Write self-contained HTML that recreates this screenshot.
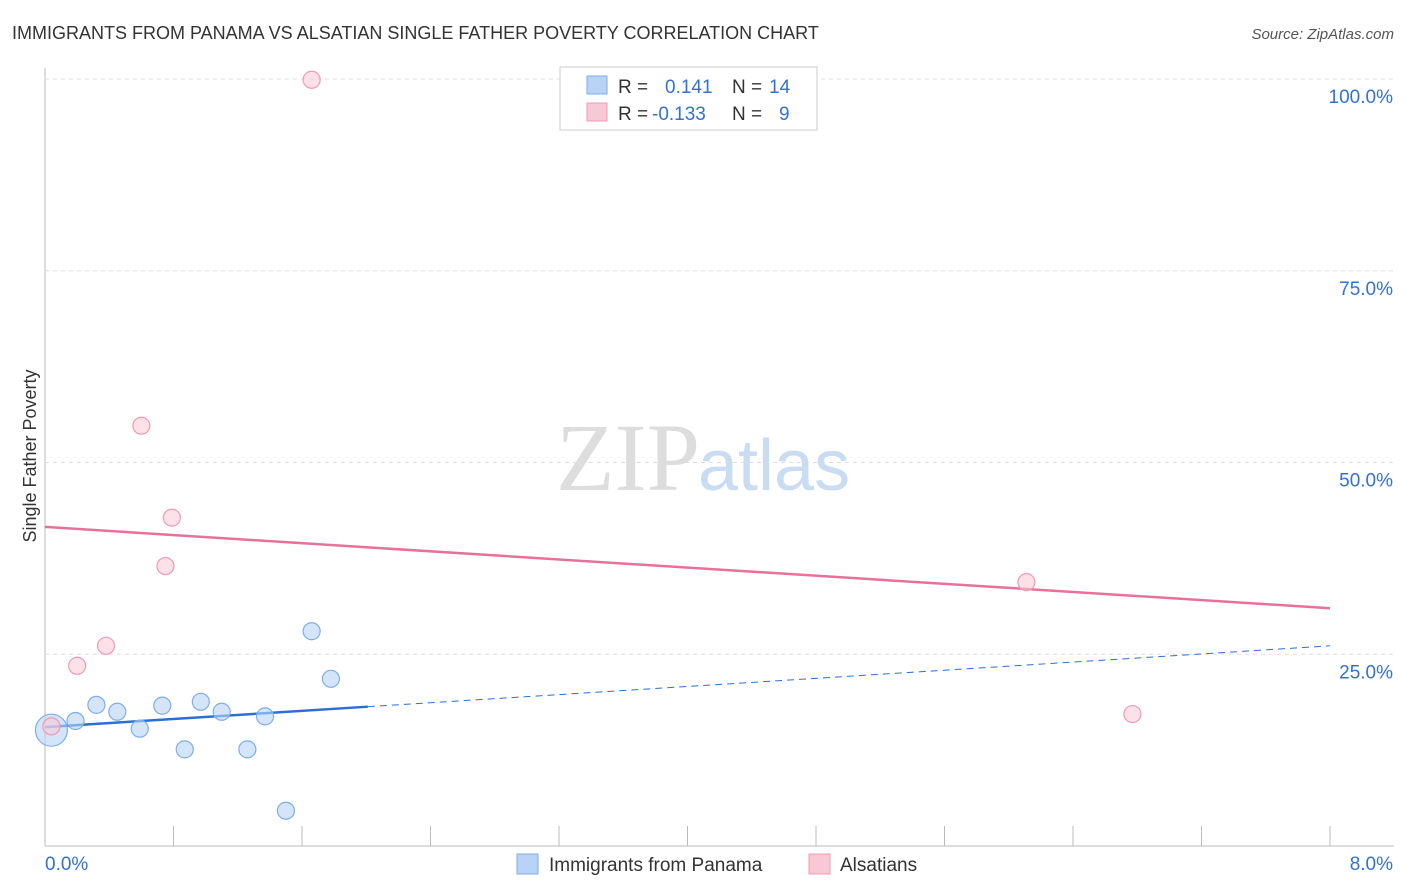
<!DOCTYPE html>
<html><head><meta charset="utf-8">
<style>
body{margin:0;background:#fff;font-family:"Liberation Sans",sans-serif;}
svg{display:block}
</style></head>
<body>
<svg id="chart" width="1406" height="892">
<text x="12" y="39" font-size="18" fill="#333">IMMIGRANTS FROM PANAMA VS ALSATIAN SINGLE FATHER POVERTY CORRELATION CHART</text>
<text x="1394" y="39" font-size="15" fill="#555" font-style="italic" text-anchor="end">Source: ZipAtlas.com</text>
<text x="36" y="456" font-size="18" fill="#333" transform="rotate(-90 36 456)" text-anchor="middle">Single Father Poverty</text>
<g id="grid"></g>
<text x="700" y="490" font-size="96" fill="#ddd" text-anchor="end" font-family="Liberation Serif,serif">ZIP</text>
<text x="698" y="490" font-size="72" fill="#c9dcf2">atlas</text>
<g id="trends"></g>
<g id="points"></g>
<g>
<rect x="560" y="67" width="257" height="63" fill="#fff" stroke="#ccc"/>
<rect x="587" y="76" width="20" height="18" fill="#b8d3f5" stroke="#7eaee8"/>
<rect x="587" y="103" width="20" height="18" fill="#f9c8d6" stroke="#f09ab3"/>
<text font-size="19" fill="#333"><tspan x="618" y="93">R = </tspan><tspan x="665" fill="#3571d0">0.141</tspan><tspan x="732">N = </tspan><tspan x="769" fill="#3571d0">14</tspan></text>
<text font-size="19" fill="#333"><tspan x="618" y="120">R = </tspan><tspan x="652" fill="#3571d0">-0.133</tspan><tspan x="732">N = </tspan><tspan x="779" fill="#3571d0">9</tspan></text>
</g>
<g>
<rect x="517" y="854" width="21" height="20" fill="#b8d3f5" stroke="#7eaee8"/>
<text x="549" y="871" font-size="19" fill="#333">Immigrants from Panama</text>
<rect x="809" y="854" width="21" height="20" fill="#f9c8d6" stroke="#f09ab3"/>
<text x="840" y="871" font-size="19" fill="#333">Alsatians</text>
</g>
</svg>
<script>
const xTicks=[0,0.8,1.6,2.4,3.2,4,4.8,5.6,6.4,7.2,8];
const yTicks=[25,50,75,100];
const yTickLabels=["25.0%","50.0%","75.0%","100.0%"];
const panamaX=[0.04,0.19,0.32,0.45,0.59,0.73,0.87,0.97,1.10,1.26,1.37,1.50,1.66,1.78];
const panamaY=[15.1,16.3,18.4,17.5,15.3,18.3,12.6,18.8,17.5,12.6,16.9,4.6,28.0,21.8];
const alsX=[0.04,0.2,0.38,0.6,0.79,0.75,1.66,6.11,6.77];
const alsY=[15.6,23.5,26.1,54.8,42.8,36.5,99.9,34.4,17.2];
const panamaTrend=[15.5,26.1];
const alsTrend=[41.6,31.0];
const panamaSolidEnd=2.01;

const X=v=>45+v*160.625, Y=v=>846-v*7.67;
const NS="http://www.w3.org/2000/svg";
function mk(tag,attrs,parent){const e=document.createElementNS(NS,tag);for(const k in attrs)e.setAttribute(k,attrs[k]);parent.appendChild(e);return e;}
const grid=document.getElementById('grid');
let ax=mk('line',{x1:45,y1:68,x2:45,y2:846,stroke:'#bbb'},grid);


let bx=mk('line',{x1:45,y1:846,x2:1394,y2:846,stroke:'#bbb'},grid);


yTicks.forEach((t,i)=>{
 let g=mk('line',{x1:45,y1:Y(t),x2:1394,y2:Y(t),stroke:'#ddd','stroke-dasharray':'4,4'},grid);
 
 
 let l=mk('text',{x:1393,y:Y(t)+24,'font-size':19,fill:'#3571d0','text-anchor':'end'},grid);
 l.textContent=yTickLabels[i];
 
 
});
xTicks.forEach(t=>{
 let k=mk('line',{x1:X(t),y1:826,x2:X(t),y2:846,stroke:'#bbb'},grid);
 
 
});
let xl0=mk('text',{x:45,y:870,'font-size':19,fill:'#3571d0'},grid);xl0.textContent="0.0%";


let xl1=mk('text',{x:1393,y:870,'font-size':19,fill:'#3571d0','text-anchor':'end'},grid);xl1.textContent="8.0%";



const tr=document.getElementById('trends');
const pAt=x=>panamaTrend[0]+(panamaTrend[1]-panamaTrend[0])*x/8;
let t1=mk('line',{x1:X(0),y1:Y(pAt(0)),x2:X(panamaSolidEnd),y2:Y(pAt(panamaSolidEnd)),stroke:'#2a6fd6','stroke-width':2.5},tr);


let t2=mk('line',{x1:X(panamaSolidEnd),y1:Y(pAt(panamaSolidEnd)),x2:X(8),y2:Y(pAt(8)),stroke:'#2a6fd6','stroke-width':1,'stroke-dasharray':'7,5'},tr);


let t3=mk('line',{x1:X(0),y1:Y(alsTrend[0]),x2:X(8),y2:Y(alsTrend[1]),stroke:'#e8719a','stroke-width':2.5},tr);



const pts=document.getElementById('points');
panamaX.forEach((x,i)=>{
 let c=mk('circle',{cx:X(x),cy:Y(panamaY[i]),r:i===0?16:8.5,fill:'#b8d3f5','fill-opacity':0.6,stroke:'#7eaee8','stroke-width':1.2},pts);
 
 
});
alsX.forEach((x,i)=>{
 let c=mk('circle',{cx:X(x),cy:Y(alsY[i]),r:8.5,fill:'#f9c8d6','fill-opacity':0.55,stroke:'#f09ab3','stroke-width':1.2},pts);
 
 
});
</script>
</body></html>
